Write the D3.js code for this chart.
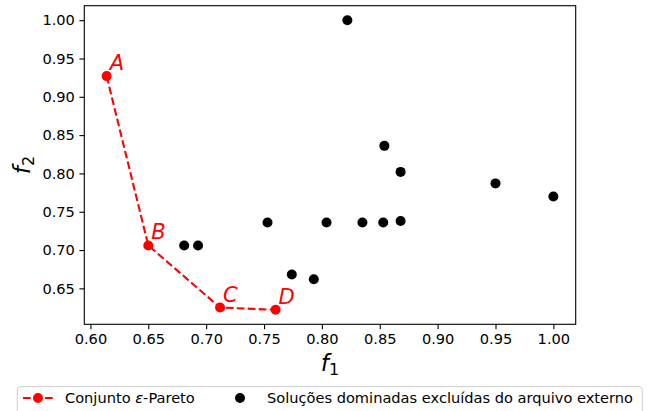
<!DOCTYPE html>
<html>
<head>
<meta charset="utf-8">
<script src="https://cdn.jsdelivr.net/npm/d3@7"></script>
<style>
  body { margin: 0; background: #fff; }
  text { font-family: "DejaVu Sans", sans-serif; }
</style>
</head>
<body>
<svg id="chart" width="650" height="411"></svg>
<script>
// epsilon-Pareto set (red, joined by dashed line)
const paretoLabels = ['A', 'B', 'C', 'D'];
const paretoF1 = [0.614, 0.650, 0.712, 0.760];
const paretoF2 = [0.927, 0.706, 0.625, 0.622];

// dominated solutions removed from the external archive (black)
const domF1 = [0.822, 0.854, 0.868, 0.950, 1.000, 0.753, 0.804, 0.835, 0.853, 0.868, 0.681, 0.693, 0.774, 0.793];
const domF2 = [1.000, 0.836, 0.802, 0.787, 0.770, 0.736, 0.736, 0.736, 0.736, 0.738, 0.706, 0.706, 0.668, 0.662];

const xTicks = [0.60, 0.65, 0.70, 0.75, 0.80, 0.85, 0.90, 0.95, 1.00];
const yTicks = [0.65, 0.70, 0.75, 0.80, 0.85, 0.90, 0.95, 1.00];

const legendLabels = ['Conjunto ', '\u03b5', '-Pareto', 'Solu\u00e7\u00f5es dominadas exclu\u00eddas do arquivo externo'];

const plotL = 84.3, plotR = 575.7, plotT = 5.7, plotB = 324.3;
const red = '#ff0000';
const fs = '14.6px';

const pareto = paretoF1.map((x, i) => ({ x, y: paretoF2[i], label: paretoLabels[i] }));
const dominated = domF1.map((x, i) => ({ x, y: domF2[i] }));

// matplotlib-style 5% margins around data
const allX = paretoF1.concat(domF1), allY = paretoF2.concat(domF2);
const [x0, x1] = d3.extent(allX), [y0, y1] = d3.extent(allY);
const mx = (x1 - x0) * 0.05, my = (y1 - y0) * 0.05;

const x = d3.scaleLinear().domain([x0 - mx, x1 + mx]).range([plotL, plotR]);
const y = d3.scaleLinear().domain([y0 - my, y1 + my]).range([plotB, plotT]);

const svg = d3.select('#chart');

// axes
const xAxis = svg.append('g')
  .attr('transform', `translate(0,${plotB})`)
  .call(d3.axisBottom(x).tickValues(xTicks).tickFormat(d3.format('.2f')).tickSizeInner(4.9).tickSizeOuter(0).tickPadding(4.5));
const yAxis = svg.append('g')
  .attr('transform', `translate(${plotL},0)`)
  .call(d3.axisLeft(y).tickValues(yTicks).tickFormat(d3.format('.2f')).tickSizeInner(4.9).tickSizeOuter(0).tickPadding(4.5));

[xAxis, yAxis].forEach(g => {
  g.select('.domain').remove();
  g.selectAll('.tick line').attr('stroke', '#000').attr('stroke-width', 1.1);
  g.selectAll('.tick text').attr('fill', '#000').style('font-size', fs).style('font-family', '"DejaVu Sans"');
});

// frame
svg.append('rect')
  .attr('x', plotL).attr('y', plotT)
  .attr('width', plotR - plotL).attr('height', plotB - plotT)
  .attr('fill', 'none').attr('stroke', '#000').attr('stroke-width', 1.1);

// dashed Pareto line
svg.append('path')
  .datum(pareto)
  .attr('fill', 'none')
  .attr('stroke', red)
  .attr('stroke-width', 2.1)
  .attr('stroke-dasharray', '7.7,3.3')
  .attr('d', d3.line().x(d => x(d.x)).y(d => y(d.y)));

svg.append('g').selectAll('circle')
  .data(pareto)
  .join('circle')
  .attr('cx', d => x(d.x)).attr('cy', d => y(d.y))
  .attr('r', 5).attr('fill', red);

svg.append('g').selectAll('text')
  .data(pareto)
  .join('text')
  .attr('x', d => x(d.x) + 3)
  .attr('y', d => y(d.y) - 6)
  .attr('fill', red)
  .style('font-size', '21px')
  .style('font-style', 'italic')
  .text(d => d.label);

svg.append('g').selectAll('circle')
  .data(dominated)
  .join('circle')
  .attr('cx', d => x(d.x)).attr('cy', d => y(d.y))
  .attr('r', 5).attr('fill', '#000');

// axis titles
const xl = svg.append('text')
  .attr('x', (plotL + plotR) / 2).attr('y', 371)
  .attr('text-anchor', 'middle').style('font-size', '23px');
xl.append('tspan').style('font-style', 'italic').text('f');
xl.append('tspan').attr('dy', 4).style('font-size', '16px').text('1');

const yl = svg.append('text')
  .attr('transform', `translate(30,${(plotT + plotB) / 2}) rotate(-90)`)
  .attr('text-anchor', 'middle').style('font-size', '23px');
yl.append('tspan').style('font-style', 'italic').text('f');
yl.append('tspan').attr('dy', 4).style('font-size', '16px').text('2');

// legend
const lg = svg.append('g');
lg.append('rect')
  .attr('x', 17.3).attr('y', 386.7).attr('width', 625).attr('height', 40)
  .attr('rx', 3).attr('fill', '#fff').attr('stroke', '#ccc').attr('stroke-width', 1);

const ly = 398;
lg.append('line')
  .attr('x1', 23).attr('x2', 53).attr('y1', ly).attr('y2', ly)
  .attr('stroke', red).attr('stroke-width', 2.1).attr('stroke-dasharray', '7.7,3.3');
lg.append('circle').attr('cx', 38).attr('cy', ly).attr('r', 5).attr('fill', red);
const lt = lg.append('text').attr('x', 65).attr('y', ly + 5).style('font-size', fs);
lt.append('tspan').text(legendLabels[0]);
lt.append('tspan').style('font-style', 'italic').text(legendLabels[1]);
lt.append('tspan').text(legendLabels[2]);

lg.append('circle').attr('cx', 240).attr('cy', ly).attr('r', 5).attr('fill', '#000');
lg.append('text').attr('x', 267).attr('y', ly + 5).style('font-size', fs).text(legendLabels[3]);
</script>
</body>
</html>
